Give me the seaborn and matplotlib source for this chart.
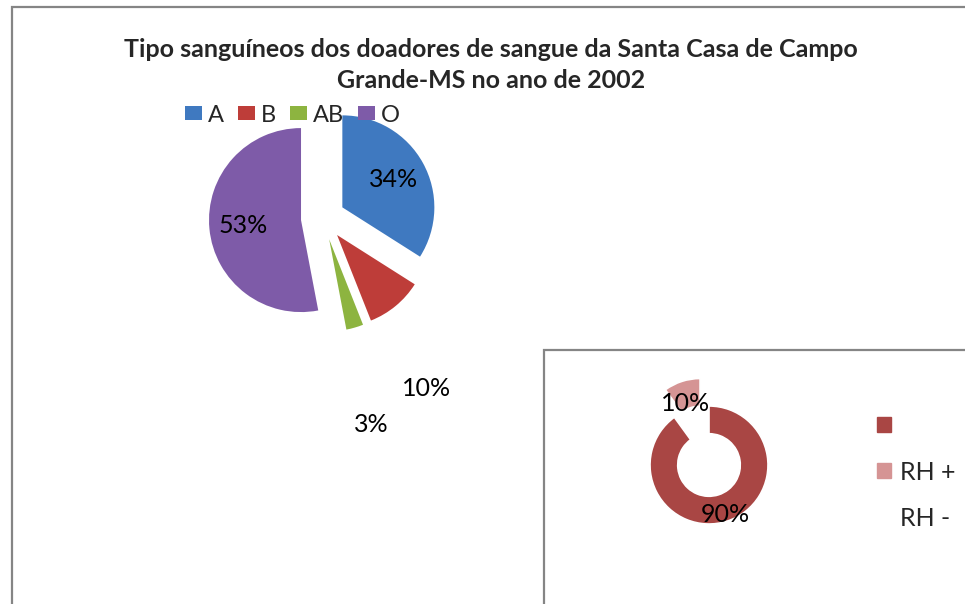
import matplotlib

matplotlib.use("Agg")

import matplotlib.pyplot as plt
import seaborn as sns
from matplotlib.patches import Patch, Rectangle

# blood type data
tipos = ["A", "B", "AB", "O"]
tipos_pct = [34, 10, 3, 53]
tipos_cores = ["#3F79C0", "#BE3D39", "#8DB440", "#7E5BA8"]

# rh factor data
rh_labels = ["RH +", "RH -"]
rh_pct = [90, 10]
rh_cores = ["#A94644", "#D59494"]

titulo = "Tipo sanguíneos dos doadores de sangue da Santa Casa de Campo\nGrande-MS no ano de 2002"

sns.set_theme(style="white")
plt.rcParams["font.family"] = ["Lato", "DejaVu Sans"]

W, H = 965, 604
fig = plt.figure(figsize=(W / 100, H / 100), dpi=100)
fig.patch.set_facecolor("white")


def px_axes(cx, cy, half):
    # axes box in pixel units, centred on (cx, cy) measured from top-left
    return fig.add_axes([(cx - half) / W, 1 - (cy + half) / H, 2 * half / W, 2 * half / H])


# outer chart frame (runs off the right and bottom edges)
fig.patches.append(Rectangle((11.5 / W, -0.1), 1.2, 1 - 6.5 / H + 0.1, transform=fig.transFigure,
                             fill=False, edgecolor="#858585", linewidth=1.6, clip_on=False))
# inner frame of the rh chart
fig.patches.append(Rectangle((544 / W, -0.1), 1.0, 1 - 350 / H + 0.1, transform=fig.transFigure,
                             fill=False, edgecolor="#858585", linewidth=1.6, clip_on=False))

fig.text(491 / W, 1 - 65 / H, titulo, ha="center", va="center", fontsize=18,
         fontweight="bold", linespacing=1.38)

# main pie
R1 = 92
ax1 = px_axes(323, 218, 150)
wedges, _, pcts = ax1.pie(tipos_pct, colors=tipos_cores, startangle=90, counterclock=False,
                          explode=[0.24] * 4, autopct="%1.0f%%", pctdistance=0.63,
                          textprops={"fontsize": 18, "color": "black"},
                          wedgeprops={"linewidth": 0})
pcts[1].set_position((1.13, -1.85))
pcts[2].set_position((0.52, -2.24))
lim = 150 / R1
ax1.set_xlim(-lim, lim)
ax1.set_ylim(-lim, lim)
ax1.set_aspect("equal")
ax1.axis("off")

fig.legend(wedges, tipos, loc="center left", bbox_to_anchor=(185 / W, 1 - 115 / H),
           ncol=4, frameon=False, fontsize=17, handlelength=0.72, handleheight=0.55,
           handletextpad=0.25, columnspacing=0.6, borderpad=0, borderaxespad=0)

# rh donut
R2 = 59
ax2 = px_axes(709, 465, 100)
w2, _, pct2 = ax2.pie(rh_pct, colors=rh_cores, startangle=90, counterclock=False,
                      explode=[0, 0.49], autopct="%1.0f%%", pctdistance=0.89,
                      textprops={"fontsize": 18, "color": "black"},
                      wedgeprops={"width": 0.47, "linewidth": 1.2, "edgecolor": "white"})
pct2[1].set_position((-0.39, 1.05))
lim2 = 100 / R2
ax2.set_xlim(-lim2, lim2)
ax2.set_ylim(-lim2, lim2)
ax2.set_aspect("equal")
ax2.axis("off")

# legend entries come out shifted by one row, as in the original
rh_handles = [Patch(color=rh_cores[0]), Patch(color=rh_cores[1]), Patch(color="none")]
fig.legend(rh_handles, [""] + rh_labels, loc="upper left", bbox_to_anchor=(877 / W, 1 - 414 / H),
           frameon=False, fontsize=18, handlelength=0.55, handleheight=0.55, handletextpad=0.35,
           labelspacing=0.95, borderpad=0, borderaxespad=0)

plt.savefig("out.png", dpi=100)
plt.close()
